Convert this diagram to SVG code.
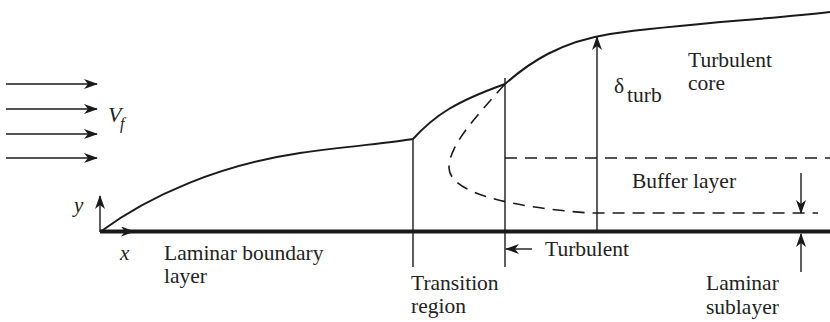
<svg xmlns="http://www.w3.org/2000/svg" width="830" height="322" viewBox="0 0 830 322">
<defs>
<marker id="ah" viewBox="0 0 14 10" refX="13" refY="5" markerWidth="14" markerHeight="10" markerUnits="userSpaceOnUse" orient="auto">
<path d="M0,0 L14,5 L0,10 L4,5 Z" fill="#1a1a1a"/>
</marker>
</defs>
<style>
text{font-family:'Liberation Serif','Times New Roman',Times,serif}
.t{font-size:21.5px;fill:#222}
.it{font-style:italic;fill:#222}
.ln{stroke:#1a1a1a;stroke-width:1.4;fill:none}
.cv{stroke:#1a1a1a;stroke-width:2;fill:none}
.ds{stroke:#1a1a1a;stroke-width:1.6;fill:none;stroke-dasharray:12 8}
.ar{stroke:#1a1a1a;stroke-width:1.4;fill:none;marker-end:url(#ah)}
</style>
<rect width="830" height="322" fill="#fff"/>
<g id="connectors">
<line class="ar" x1="6" y1="84" x2="97" y2="84"/>
<line class="ar" x1="6" y1="109" x2="97" y2="109"/>
<line class="ar" x1="6" y1="134" x2="97" y2="134"/>
<line class="ar" x1="6" y1="158" x2="97" y2="158"/>
<line x1="100" y1="231.5" x2="830" y2="231.5" stroke="#1a1a1a" stroke-width="4"/>
<line class="ar" x1="100" y1="231.5" x2="134" y2="231.5" stroke-width="2"/>
<line class="ar" x1="100" y1="232" x2="100" y2="196" stroke-width="2"/>
<path class="cv" d="M100,232 C150,195 220,165 300,153 C350,146 390,143 413,139"/>
<path class="cv" d="M413,139 C435,115 455,102 505,84"/>
<path class="cv" d="M505,84 C530,62 560,42 610,34 C680,24 760,20 830,12"/>
<line class="ln" x1="413" y1="139" x2="413" y2="267"/>
<line class="ln" x1="505" y1="78" x2="505" y2="267"/>
<path class="ds" d="M505,84 C475,118 449,145 449,168 C450,195 520,208 590,213 H818"/>
<line class="ds" x1="505" y1="158" x2="830" y2="158"/>
<line class="ar" x1="597" y1="232" x2="597" y2="37"/>
<line class="ar" x1="532" y1="249" x2="506" y2="249"/>
<line class="ar" x1="801" y1="173" x2="801" y2="213"/>
<line class="ar" x1="801" y1="272" x2="801" y2="234"/>
</g>
<g id="flow"><text class="it" x="108" y="122" font-size="22">V</text><text class="it" x="120" y="129" font-size="16">f</text></g>
<g id="axes"><text class="it" x="74" y="212" font-size="21">y</text><text class="it" x="120" y="260" font-size="21">x</text></g>
<g id="laminar-bl"><text class="t" x="164" y="260">Laminar boundary</text><text class="t" x="164" y="283">layer</text></g>
<g id="transition"><text class="t" x="411" y="290">Transition</text><text class="t" x="411" y="313">region</text></g>
<g id="turbulent"><text class="t" x="545" y="256">Turbulent</text></g>
<g id="turbulent-core"><text class="t" x="688" y="67">Turbulent</text><text class="t" x="688" y="90">core</text></g>
<g id="delta"><text class="t" x="614" y="93">δ</text><text class="t" x="627" y="102" font-size="16">turb</text></g>
<g id="buffer"><text class="t" x="632" y="188">Buffer layer</text></g>
<g id="sublayer"><text class="t" x="706" y="290">Laminar</text><text class="t" x="706" y="314">sublayer</text></g>
</svg>
